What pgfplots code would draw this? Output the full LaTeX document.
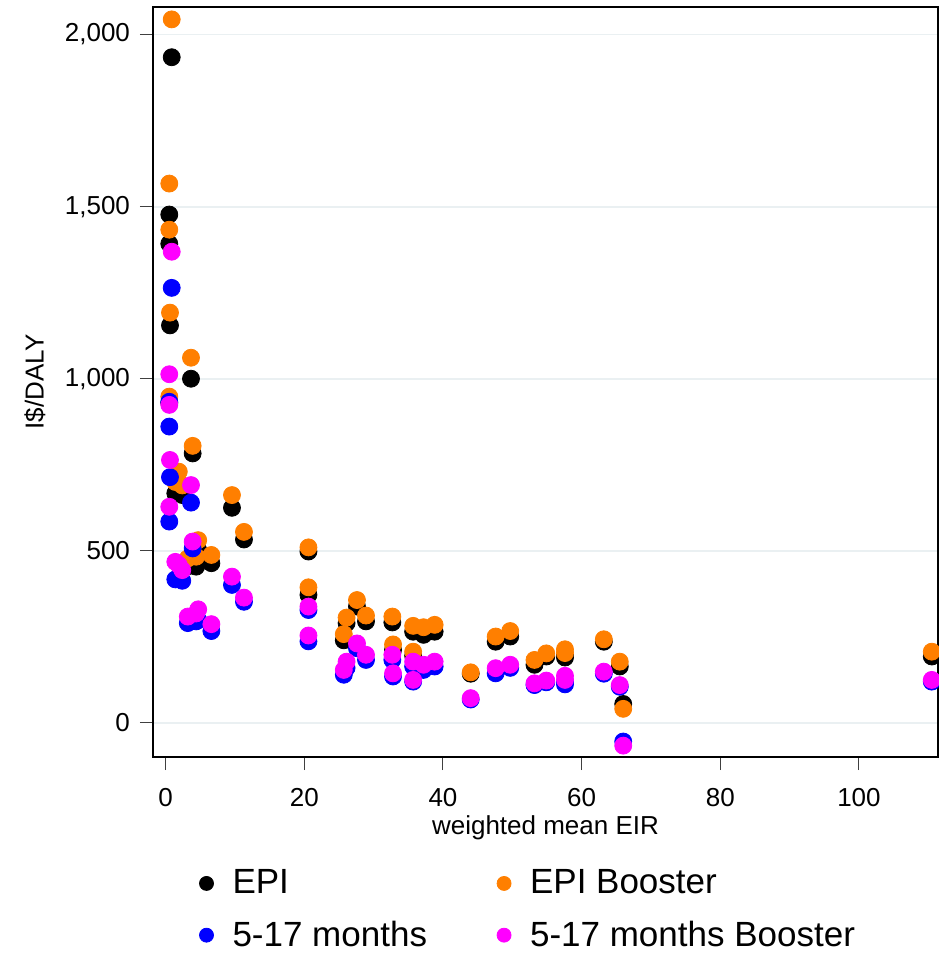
\documentclass[border=0pt]{standalone}
\usepackage{fontspec}
\setmainfont{Liberation Sans}
\usepackage{pgfplots}
\usepackage{pgfplotstable}
\pgfplotsset{compat=1.18}
\definecolor{epib}{RGB}{255,127,0}
\definecolor{blu}{RGB}{0,0,255}
\definecolor{mag}{RGB}{255,0,255}
\definecolor{gridc}{RGB}{234,240,242}

\pgfplotstableread{
x     epi   epib  m    mb
0.88  1934  2044  1264 1369
0.53  1477  1567  933  1013
0.53  1392  1433  861  924
0.63  1155  1192  714  764
0.53  930   948   585  628
1.4   667   700   417  468
1.9   690   730   420  459
2.4   662   690   413  444
3.2   455   478   290  309
3.66  1000  1061  640  691
3.9   783   805   507  527
4.4   454   483   295  318
4.7   502   531   299  330
6.6   464   488   267  287
9.57  625   662   401  425
11.3  533   555   352  364
20.6  498   510   328  338
20.6  372   394   237  254
25.7  240   258   140  154
26.1  290   306   160  178
27.6  338   357   217  231
28.9  295   312   183  198
32.7  292   309   183  198
32.8  212   228   135  144
35.7  265   282   164  178
35.7  195   207   120  125
37.2  256   278   154  169
38.8  265   285   164  178
44.0  143   147   68   72
47.6  236   251   144  159
49.7  251   267   160  169
53.2  169   183   110  115
54.9  193   202   118  123
57.6  200   214   120  137
57.6  190   203   112  125
63.2  236   243   143  149
65.5  164   178   105  110
66.0  55    41    -54  -66
110.5 193   207   120  125
}\datatable

\begin{document}
\begin{tikzpicture}
\useasboundingbox (-76.5pt,-99.5pt) rectangle (392.5pt,378.5pt);
\begin{axis}[
  scale only axis, width=392.5pt, height=375pt,
  at={(0pt,0pt)}, anchor=south west,
  xmin=-1.82, xmax=111.4, ymin=-99, ymax=2080,
  xtick={0,20,...,100}, ytick={0,500,...,2000},
  xtick pos=bottom, ytick pos=left,
  tick align=outside, major tick length=6.5pt,
  tick style={black!75, line width=0.5pt},
  axis line style={line width=0.6pt},
  ymajorgrids, major grid style={gridc, line width=0.9pt},
  /pgf/number format/assume math mode=true,
  /pgf/number format/1000 sep={,},
  tick label style={font=\fontsize{13}{15}\selectfont},
  xticklabel style={yshift=-5.5pt},
  yticklabel style={xshift=-1.5pt},
  label style={font=\fontsize{13}{15}\selectfont},
  xlabel={weighted mean EIR}, ylabel={I\$/DALY},
  xlabel style={at={(axis description cs:0.5,-0.0947)}, anchor=center},
  ylabel style={at={(axis description cs:-0.1503,0.5)}, anchor=center, rotate=0},
  legend columns=2,
  legend cell align=left,
  legend style={at={(axis description cs:0.0562,-0.142)}, anchor=north west,
    draw=none, fill=none, inner sep=1pt, font=\fontsize{17.5}{21}\selectfont, row sep=8pt,
    /tikz/every odd column/.append style={column sep=7.5pt},
    /tikz/every even column/.append style={column sep=33pt}},
  legend image code/.code={\draw[#1,mark size=3.5pt] plot coordinates {(0pt,0pt)};},
]
\addplot[only marks, mark=*, mark size=4.25pt, black] table[x=x,y=epi] {\datatable};
\addlegendentry{EPI}
\addplot[only marks, mark=*, mark size=4.25pt, epib] table[x=x,y=epib] {\datatable};
\addlegendentry{EPI Booster}
\addplot[only marks, mark=*, mark size=4.25pt, blu] table[x=x,y=m] {\datatable};
\addlegendentry{5-17 months}
\addplot[only marks, mark=*, mark size=4.25pt, mag] table[x=x,y=mb] {\datatable};
\addlegendentry{5-17 months Booster}
\end{axis}
\end{tikzpicture}
\end{document}
